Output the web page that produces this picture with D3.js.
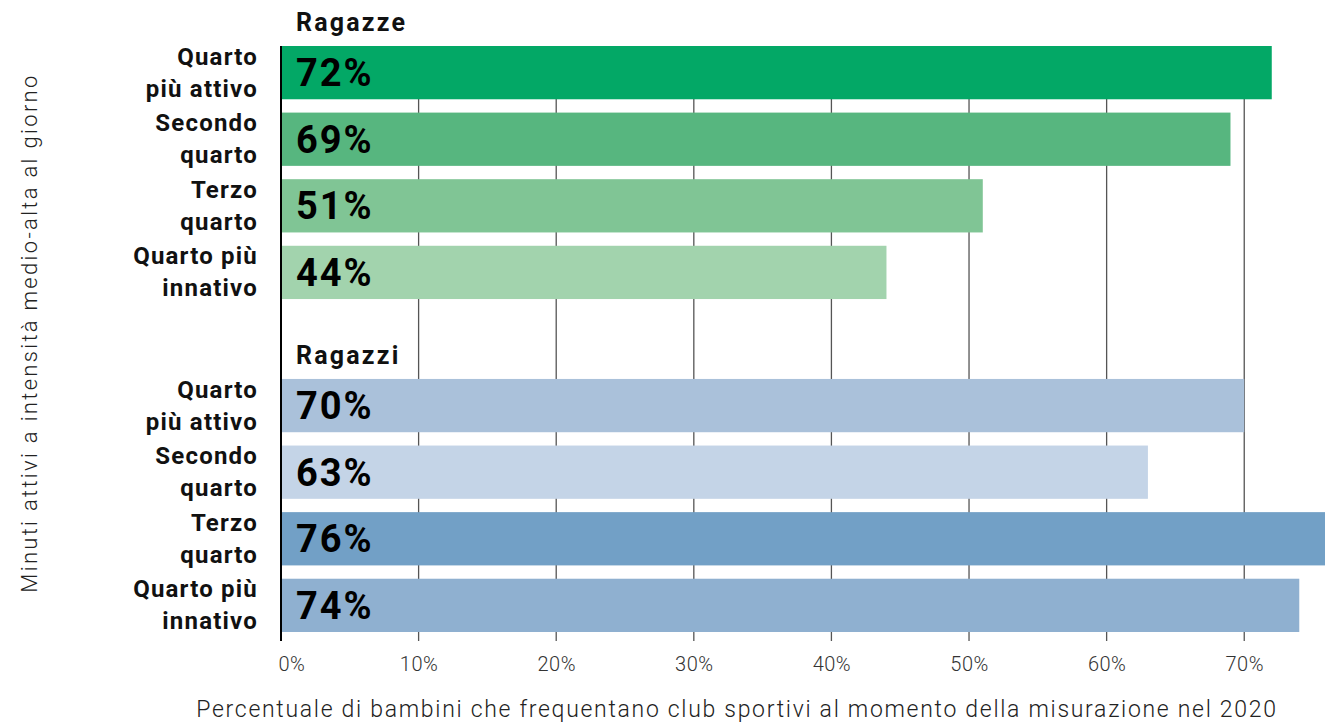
<!DOCTYPE html>
<html>
<head>
<meta charset="utf-8">
<script src="https://cdn.jsdelivr.net/npm/d3@7"></script>
<style>
  body { margin: 0; background: #fff; }
  svg { display: block; font-family: Roboto, "Noto Sans", sans-serif; }
</style>
</head>
<body>
<div id="chart"></div>
<script>
// groups and their quartile categories
const groups = ['Ragazze', 'Ragazzi'];
const categories = [
  ['Quarto', 'più attivo'],
  ['Secondo', 'quarto'],
  ['Terzo', 'quarto'],
  ['Quarto più', 'innativo'],
];
const girlsValues = [72, 69, 51, 44];
const boysValues = [70, 63, 76, 74];
const girlsColors = ['#03a866', '#57b67f', '#80c595', '#a2d3ad'];
const boysColors = ['#aac1da', '#c4d4e7', '#72a0c6', '#8fb0d0'];
const xTicks = [0, 10, 20, 30, 40, 50, 60, 70];
const xTitle = 'Percentuale di bambini che frequentano club sportivi al momento della misurazione nel 2020';
const yTitle = 'Minuti attivi a intensità medio-alta al giorno';

const width = 1325;
const height = 726;

// flatten into rows, with an empty slot between the two groups
const rows = [];
girlsValues.forEach((v, i) => rows.push({ key: `g${i}`, group: 0, idx: i, value: v, color: girlsColors[i] }));
boysValues.forEach((v, i) => rows.push({ key: `b${i}`, group: 1, idx: i, value: v, color: boysColors[i] }));
const slots = ['g0', 'g1', 'g2', 'g3', 'gap', 'b0', 'b1', 'b2', 'b3'];

const x = d3.scaleLinear().domain([0, 76]).range([281, 1326.8]);
const y = d3.scaleBand().domain(slots).range([46, 632]).paddingInner(0.2).paddingOuter(0);

const svg = d3.select('#chart').append('svg')
  .attr('width', width)
  .attr('height', height);

// grid lines (drawn first, bars go over them)
svg.append('g')
  .selectAll('line')
  .data(xTicks.filter(d => d > 0))
  .enter().append('line')
    .attr('x1', d => x(d))
    .attr('x2', d => x(d))
    .attr('y1', 46)
    .attr('y2', 641)
    .attr('stroke', '#555')
    .attr('stroke-width', 1.3);

// bars
svg.append('g')
  .selectAll('rect')
  .data(rows)
  .enter().append('rect')
    .attr('x', x(0))
    .attr('y', d => y(d.key))
    .attr('width', d => x(d.value) - x(0))
    .attr('height', y.bandwidth())
    .attr('fill', d => d.color);

// zero line
svg.append('line')
  .attr('x1', x(0)).attr('x2', x(0))
  .attr('y1', 46).attr('y2', 641)
  .attr('stroke', '#000')
  .attr('stroke-width', 2);

// value labels inside bars
svg.append('g')
  .selectAll('text')
  .data(rows)
  .enter().append('text')
    .attr('x', x(0) + 15)
    .attr('y', d => y(d.key) + y.bandwidth() / 2 + 13.5)
    .attr('font-size', 38)
    .attr('font-weight', 700)
    .style('letter-spacing', '2px')
    .attr('fill', '#000')
    .text(d => `${d.value}%`);

// category labels (two lines, right aligned)
const catLabels = svg.append('g')
  .selectAll('text')
  .data(rows)
  .enter().append('text')
    .attr('text-anchor', 'end')
    .attr('font-size', 24)
    .attr('font-weight', 700)
    .style('letter-spacing', '1.2px')
    .attr('fill', '#111');
catLabels.each(function (d) {
  const cy = y(d.key) + y.bandwidth() / 2;
  const t = d3.select(this);
  categories[d.idx].forEach((line, j) => {
    t.append('tspan')
      .attr('x', 258)
      .attr('y', cy + (j === 0 ? -8 : 24))
      .text(line);
  });
});

// group headers
svg.append('g')
  .selectAll('text')
  .data(groups)
  .enter().append('text')
    .attr('x', x(0) + 15)
    .attr('y', (d, i) => y(i === 0 ? 'g0' : 'b0') - 15)
    .attr('font-size', 25)
    .attr('font-weight', 700)
    .style('letter-spacing', '2.2px')
    .attr('fill', '#111')
    .text(d => d);

// x axis tick labels
const axis = svg.append('g')
  .attr('transform', 'translate(0,641)')
  .call(d3.axisBottom(x).tickValues(xTicks).tickSize(0).tickPadding(16).tickFormat(d => `${d}%`));
axis.select('.domain').remove();
axis.selectAll('text')
  .attr('font-family', 'Roboto, sans-serif')
  .attr('font-size', 20)
  .attr('font-weight', 300)
  .style('letter-spacing', '0.5px')
  .attr('fill', '#333')
  .filter(d => d === 0)
    .attr('text-anchor', 'start')
    .attr('dx', -3);

// axis titles
svg.append('text')
  .attr('x', 737)
  .attr('y', 717)
  .attr('text-anchor', 'middle')
  .attr('font-size', 23)
  .attr('font-weight', 300)
  .style('letter-spacing', '1.7px')
  .attr('fill', '#222')
  .text(xTitle);

svg.append('text')
  .attr('transform', 'translate(37,333) rotate(-90)')
  .attr('text-anchor', 'middle')
  .attr('font-size', 22)
  .attr('font-weight', 300)
  .style('letter-spacing', '2.3px')
  .attr('fill', '#222')
  .text(yTitle);
</script>
</body>
</html>
